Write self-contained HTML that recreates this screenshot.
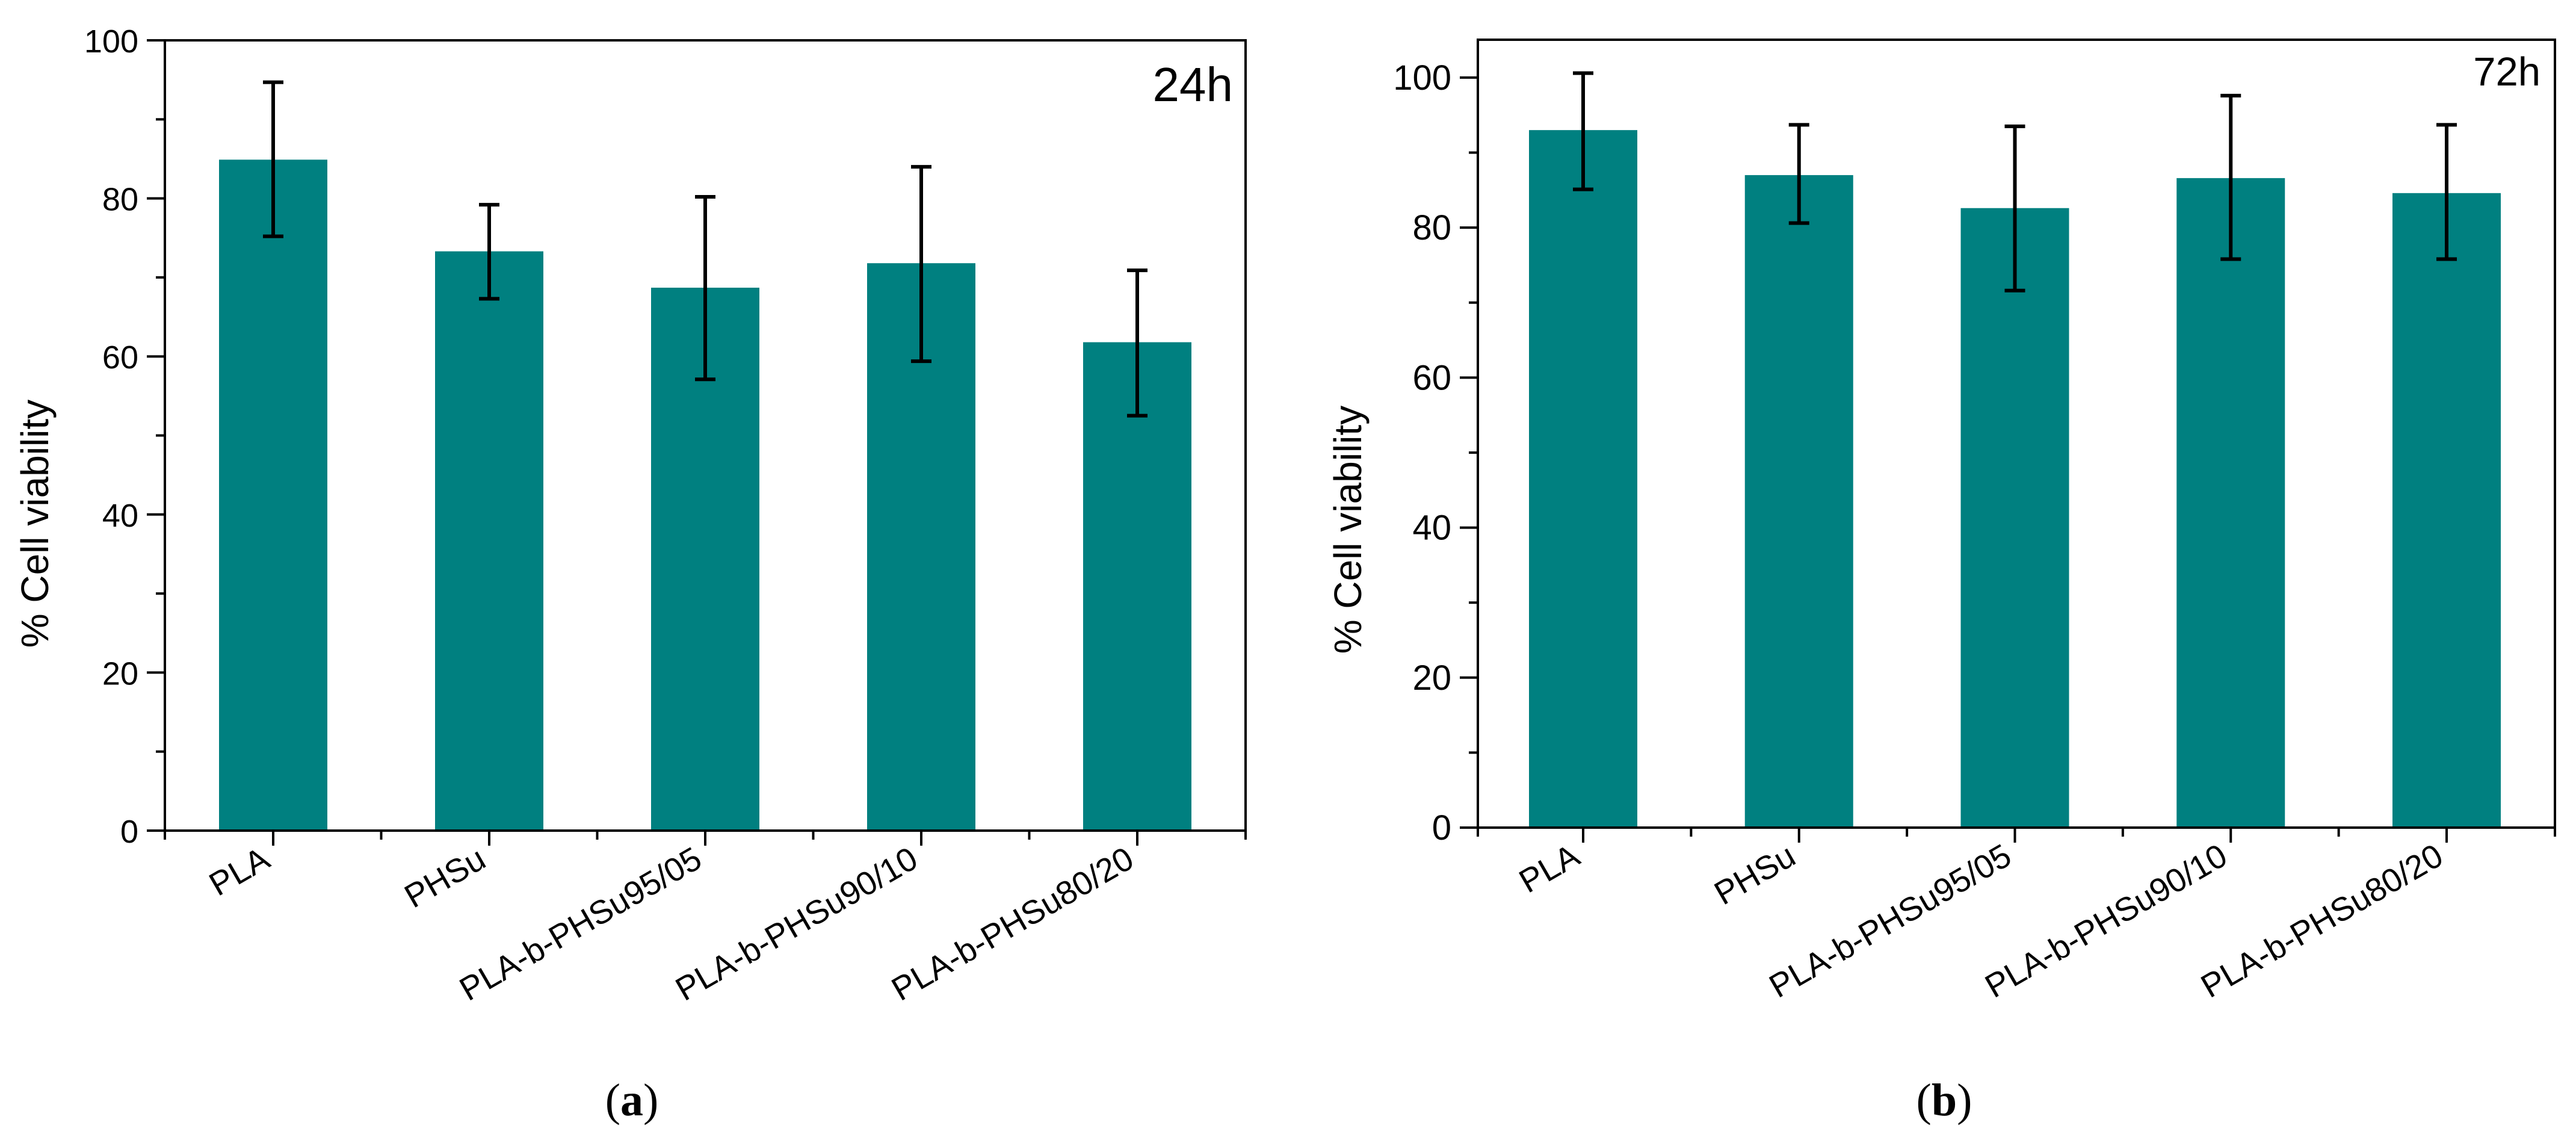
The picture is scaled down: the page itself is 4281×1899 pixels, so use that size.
<!DOCTYPE html>
<html>
<head>
<meta charset="utf-8">
<style>
html,body{margin:0;padding:0;background:#fff;}
svg{display:block;}
text{font-family:"Liberation Sans",Arial,sans-serif;fill:#000;}
.cap{font-family:"Liberation Serif","Times New Roman",serif;}
</style>
</head>
<body>
<svg id="fig" width="4281" height="1899" viewBox="0 0 4281 1899" xmlns="http://www.w3.org/2000/svg">
  <g id="panelA"></g>
  <g id="panelB"></g>
  <text class="cap" x="1050" y="1853" font-size="76" text-anchor="middle">(<tspan font-weight="bold">a</tspan>)</text>
  <text class="cap" x="3231" y="1853" font-size="76" text-anchor="middle">(<tspan font-weight="bold">b</tspan>)</text>
</svg>
<script>
const categories = ["PLA", "PHSu", "PLA-b-PHSu95/05", "PLA-b-PHSu90/10", "PLA-b-PHSu80/20"];
const values24 = [84.9, 73.3, 68.7, 71.8, 61.8];
const errHi24 = [94.7, 79.2, 80.2, 84.0, 70.9];
const errLo24 = [75.2, 67.3, 57.1, 59.4, 52.5];
const values72 = [93.0, 87.0, 82.6, 86.6, 84.6];
const errHi72 = [100.6, 93.7, 93.5, 97.6, 93.7];
const errLo72 = [85.1, 80.6, 71.6, 75.8, 75.8];
const ticks24 = [0, 20, 40, 60, 80, 100];
const ticks72 = [0, 20, 40, 60, 80, 100];

const NS = "http://www.w3.org/2000/svg";
function mk(parent, tag, attrs) {
  const e = document.createElementNS(NS, tag);
  for (const k in attrs) e.setAttribute(k, attrs[k]);
  parent.appendChild(e);
  return e;
}

function drawPanel(g, cfg) {
  const L = cfg.left, R = cfg.right, T = cfg.top, B = cfg.bottom;
  const y = v => B - (v - cfg.ymin) / (cfg.ymax - cfg.ymin) * (B - T);
  const slot = (R - L - cfg.gapL - cfg.gapR) / (categories.length - 1);
  const x = i => L + cfg.gapL + i * slot;
  const bw = 180;

  cfg.vals.forEach((v, i) => {
    const r = mk(g, "rect", {x: x(i) - bw / 2, y: y(v), width: bw, height: y(0) - y(v), fill: "#008080"});
    
    
  });
  cfg.vals.forEach((v, i) => {
    const eg = mk(g, "g", {stroke: "#000", "stroke-width": 6});
    
    
    mk(eg, "line", {x1: x(i), x2: x(i), y1: y(cfg.hi[i]), y2: y(cfg.lo[i])});
    mk(eg, "line", {x1: x(i) - 17, x2: x(i) + 17, y1: y(cfg.hi[i]), y2: y(cfg.hi[i])});
    mk(eg, "line", {x1: x(i) - 17, x2: x(i) + 17, y1: y(cfg.lo[i]), y2: y(cfg.lo[i])});
  });
  const fr = mk(g, "rect", {x: L, y: T, width: R - L, height: B - T, fill: "none", stroke: "#000", "stroke-width": 4});
  
  

  const ya = mk(g, "g", {stroke: "#000", "stroke-width": 4});
  
  
  cfg.ticks.forEach(t => {
    mk(ya, "line", {x1: L - 30, x2: L, y1: y(t), y2: y(t)});
    const tx = mk(g, "text", {x: L - 44, y: y(t) + 20, "font-size": cfg.tickFont, "text-anchor": "end"});
    tx.textContent = t;
    
    
  });
  for (let t = 10; t < cfg.ymax; t += 20) {
    mk(ya, "line", {x1: L - 15, x2: L, y1: y(t), y2: y(t)});
  }
  const xa = mk(g, "g", {stroke: "#000", "stroke-width": 4});
  
  
  categories.forEach((c, i) => {
    mk(xa, "line", {x1: x(i), x2: x(i), y1: B, y2: B + 25});
    const lx = x(i) - 2, ly = B + 58;
    const tx = mk(g, "text", {x: lx, y: ly, "font-size": 55, "text-anchor": "end", transform: `rotate(-30 ${lx} ${ly})`});
    tx.textContent = c;
    
    
  });
  for (let i = 0; i <= categories.length; i++) {
    const bx = i === 0 ? L : (i === categories.length ? R : x(i) - slot / 2);
    mk(xa, "line", {x1: bx, x2: bx, y1: B, y2: B + 15});
  }
  const yt = mk(g, "text", {x: cfg.titleX, y: cfg.titleY, "font-size": 64, "text-anchor": "middle", transform: `rotate(-90 ${cfg.titleX} ${cfg.titleY})`});
  yt.textContent = "% Cell viability";
  
  
  const tl = mk(g, "text", {x: cfg.labX, y: cfg.labY, "font-size": cfg.labFont, "text-anchor": "end"});
  tl.textContent = cfg.label;
  
  
}

drawPanel(document.getElementById("panelA"), {
  left: 274, right: 2070, top: 67, bottom: 1380, ymin: 0, ymax: 100,
  gapL: 180, gapR: 180, vals: values24, hi: errHi24, lo: errLo24, ticks: ticks24,
  tickFont: 54, titleX: 80, titleY: 870, label: "24h", labX: 2049, labY: 168, labFont: 80
});
drawPanel(document.getElementById("panelB"), {
  left: 2456, right: 4246, top: 66, bottom: 1375, ymin: 0, ymax: 105.05,
  gapL: 175, gapR: 180, vals: values72, hi: errHi72, lo: errLo72, ticks: ticks72,
  tickFont: 58, titleX: 2262, titleY: 880, label: "72h", labX: 4222, labY: 142, labFont: 67
});
</script>
</body>
</html>
